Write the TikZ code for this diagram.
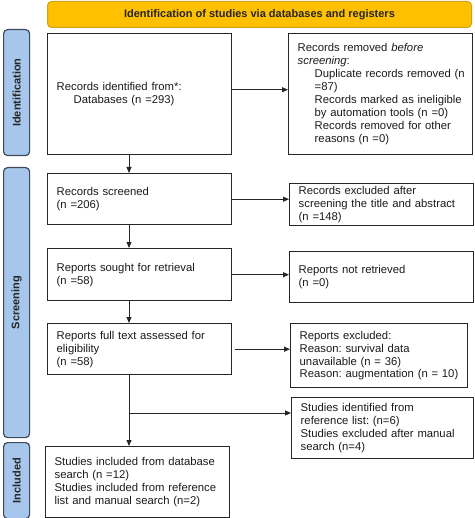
\documentclass[tikz,border=0pt]{standalone}
\usepackage{fontspec}
\setmainfont{Liberation Sans}
\usetikzlibrary{arrows.meta,calc}
\definecolor{titlefill}{HTML}{FFC000}
\definecolor{titledraw}{HTML}{D4A017}
\definecolor{sidefill}{HTML}{A7C6EC}
\definecolor{sidedraw}{HTML}{3E4A5C}
\definecolor{txt}{HTML}{1A1A1A}
\newcommand\tl[1]{\mbox{#1}}
\newcommand\il[1]{\mbox{\hspace*{17pt}#1}}
\frenchspacing
\begin{document}
\begin{tikzpicture}[x=1pt,y=-1pt,
  box/.style={draw=black!85,line width=1.4pt,anchor=north west,inner xsep=9pt,inner ysep=0pt,
    align=left,text=txt,font=\fontsize{11.3}{12.9}\selectfont},
  sidebar/.style={draw=sidedraw,fill=sidefill,line width=1.2pt,rounded corners=4pt,anchor=north west,
    minimum width=26pt,inner sep=0pt},
  sidelabel/.style={rotate=90,font=\bfseries\fontsize{11}{12}\selectfont,text=black!85},
  arr/.style={line width=0.9pt,draw=black!85,-{Triangle[length=6pt,width=5pt]}}
]
\useasboundingbox (0,0) rectangle (474,518);
% title
\node[draw=titledraw,fill=titlefill,line width=1pt,rounded corners=4pt,anchor=north west,
  minimum width=424pt,minimum height=26pt,inner sep=0pt,font=\bfseries\fontsize{11}{12}\selectfont,text=black!85]
  (title) at (47,1) {Identification of studies via databases and registers};
% side bars
\node[sidebar,minimum height=126pt] (sid1) at (3,29) {};
\node[sidelabel] at (sid1.center) {Identification};
\node[sidebar,minimum height=270pt] (sid2) at (3,167) {};
\node[sidelabel] at (sid2.center) {Screening};
\node[sidebar,minimum height=76pt] (sid3) at (3,442) {};
\node[sidelabel] at (sid3.center) {Included};
% left column
\node[box,minimum width=184pt,minimum height=121pt,text width=166pt] (rec) at (47,33)
  {\tl{Records identified from*:}\\\il{Databases (n =293)}};
\node[box,minimum width=184pt,minimum height=51pt,text width=166pt] (scr) at (47,173)
  {\tl{Records screened}\\\tl{(n =206)}};
\node[box,minimum width=184pt,minimum height=52pt,text width=166pt] (sou) at (47,248)
  {\tl{Reports sought for retrieval}\\\tl{(n =58)}};
\node[box,minimum width=184pt,minimum height=51pt,text width=166pt] (ful) at (47,323)
  {\tl{Reports full text assessed for}\\\tl{eligibility}\\\tl{(n =58)}};
\node[box,minimum width=184pt,minimum height=71pt,text width=166pt] (inc) at (45,446)
  {\tl{Studies included from database}\\\tl{search (n =12)}\\\tl{Studies included from reference}\\\tl{list and manual search (n=2)}};
% right column
\node[box,minimum width=184pt,minimum height=121pt,text width=166pt] (rem) at (288,33)
  {\tl{Records removed \textit{before}}\\\tl{\textit{screening}:}\\
   \il{Duplicate records removed (n}\\\il{=87)}\\
   \il{Records marked as ineligible}\\\il{by automation tools (n =0)}\\
   \il{Records removed for other}\\\il{reasons (n =0)}};
\node[box,minimum width=184pt,minimum height=42pt,text width=166pt] (exc) at (289,183)
  {\tl{Records excluded after}\\\tl{screening the title and abstract}\\\tl{(n =148)}};
\node[box,minimum width=184pt,minimum height=51pt,text width=166pt] (nre) at (289,251)
  {\tl{Reports not retrieved}\\\tl{(n =0)}};
\node[box,minimum width=177pt,minimum height=64pt,text width=159pt] (rex) at (290,323)
  {\tl{Reports excluded:}\\\tl{Reason: survival data}\\\tl{unavailable (n = 36)}\\\tl{Reason: augmentation (n = 10)}};
\node[box,minimum width=182pt,minimum height=61pt,text width=164pt] (sif) at (291,397)
  {\tl{Studies identified from}\\\tl{reference list: (n=6)}\\\tl{Studies excluded after manual}\\\tl{search (n=4)}};
% connectors
\coordinate (col) at (129,0);
\coordinate (br) at (129,413);
\draw[arr] ([yshift=4.5pt]rec.east) -- ([yshift=4.5pt]rem.west);
\draw[arr] (scr.east) -- (exc.west |- scr.east);
\draw[arr] (sou.east) -- (nre.west |- sou.east);
\draw[arr] ([xshift=3pt]ful.east) -- (rex.west |- ful.east);
\draw[arr] (rec.south -| col) -- (scr.north -| col);
\draw[arr] (scr.south -| col) -- (sou.north -| col);
\draw[arr] (sou.south -| col) -- (ful.north -| col);
\draw[arr] (ful.south -| col) -- (inc.north -| col);
\draw[arr] (br) -- (sif.west |- br);
\end{tikzpicture}
\end{document}
